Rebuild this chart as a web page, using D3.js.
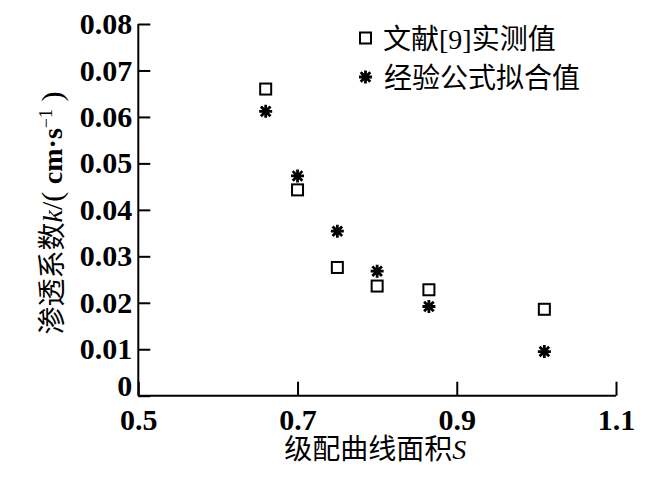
<!DOCTYPE html>
<html><head><meta charset="utf-8">
<script src="https://cdn.jsdelivr.net/npm/d3@7"></script>
<style>
body{margin:0;background:#fff;}
svg{display:block;}
</style></head>
<body>
<svg id="chart" width="664" height="486"></svg>
<script>
// ---- data ----
const xValues = [0.66, 0.70, 0.75, 0.80, 0.865, 1.01];
const measured = [0.0660, 0.0443, 0.0276, 0.0236, 0.0228, 0.0186];
const fitted   = [0.0612, 0.0473, 0.0354, 0.0268, 0.0192, 0.0095];
const xTicks = [0.5, 0.7, 0.9, 1.1];
const yTicks = [0, 0.01, 0.02, 0.03, 0.04, 0.05, 0.06, 0.07, 0.08];
const seriesNames = ["文献[9]实测值", "经验公式拟合值"];

const svg = d3.select("#chart");
const x = d3.scaleLinear().domain([0.5, 1.1]).range([138.3, 616]);
const y = d3.scaleLinear().domain([0, 0.08]).range([395.7, 24]);

const numFont = "'Liberation Serif','Times New Roman',serif";
const cjkFont = "'Liberation Serif','Noto Sans CJK SC',serif";

// x axis
const gx = svg.append("g").attr("transform", `translate(0,${y(0)})`)
  .call(d3.axisBottom(x).tickValues(xTicks).tickFormat(d3.format(".1f"))
    .tickSizeInner(-14).tickSizeOuter(0).tickPadding(13));
// y axis
const gy = svg.append("g").attr("transform", `translate(${x(0.5)},0)`)
  .call(d3.axisLeft(y).tickValues(yTicks).tickFormat(d => d === 0 ? "0" : d3.format(".2f")(d))
    .tickSizeInner(-12).tickSizeOuter(0).tickPadding(6));

[gx, gy].forEach(g => {
  g.select(".domain").attr("stroke", "#000").attr("stroke-width", 2);
  g.selectAll(".tick line").attr("stroke", "#000").attr("stroke-width", 2);
  g.selectAll(".tick text").attr("fill", "#000")
    .style("font-family", numFont).style("font-size", "30px").style("font-weight", "bold");
});
gy.selectAll(".tick").filter(d => d === 0).select("text").attr("dy", "0.0em");
gy.select(".domain").attr("d", `M0,${y(0)}V${y(0.08)}`);
gx.select(".domain").attr("d", `M${x(0.5)},0H${x(1.1)}`);

// markers
function square(g, cx, cy) {
  g.append("rect").attr("x", cx - 5.5).attr("y", cy - 5.5).attr("width", 11).attr("height", 11)
    .attr("fill", "#fff").attr("stroke", "#000").attr("stroke-width", 2);
}
function star(g, cx, cy) {
  const r = 6.5, d = 4.8;
  const p = `M${cx - r},${cy}H${cx + r}M${cx},${cy - r}V${cy + r}` +
            `M${cx - d},${cy - d}L${cx + d},${cy + d}M${cx - d},${cy + d}L${cx + d},${cy - d}`;
  g.append("path").attr("d", p).attr("stroke", "#000").attr("stroke-width", 2.8).attr("fill", "none");
}
const pts = svg.append("g");
xValues.forEach((xv, i) => {
  square(pts, x(xv), y(measured[i]));
  star(pts, x(xv), y(fitted[i]));
});

// legend
const leg = svg.append("g");
square(leg, 365.5, 38);
star(leg, 365.5, 77);
leg.append("text").attr("x", 383).attr("y", 48.5).text(seriesNames[0])
  .style("font-family", cjkFont).style("font-size", "28px");
leg.append("text").attr("x", 384).attr("y", 87.5).text(seriesNames[1])
  .style("font-family", cjkFont).style("font-size", "28px");

// x title
const xt = svg.append("text").attr("x", x(0.8) - 2).attr("y", 459).attr("text-anchor", "middle")
  .style("font-family", cjkFont).style("font-size", "28px");
xt.append("tspan").text("级配曲线面积");
xt.append("tspan").text("S").style("font-style", "italic").style("font-family", numFont);

// y title
const yt = svg.append("text").attr("transform", `translate(62,213) rotate(-90)`)
  .attr("text-anchor", "middle").style("font-family", cjkFont).style("font-size", "28px");
yt.append("tspan").text("渗透系数");
yt.append("tspan").text("k").style("font-style", "italic").style("font-family", numFont);
yt.append("tspan").text("/( ").style("font-family", numFont).style("font-size", "30px");
yt.append("tspan").text("cm·s").style("font-family", numFont).style("font-weight", "bold");
yt.append("tspan").text("−1").style("font-family", numFont).style("font-size", "18px").attr("dy", "-10");
yt.append("tspan").text(" )").style("font-family", numFont).style("font-size", "30px").attr("dy", "10");
</script>
</body></html>
